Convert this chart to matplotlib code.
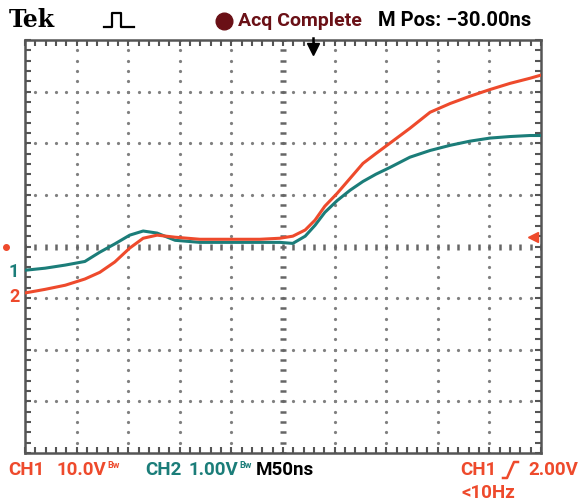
import matplotlib
matplotlib.use('Agg')
import matplotlib.pyplot as plt
from matplotlib.lines import Line2D
import numpy as np

# screen positions of the traces, in divisions (x: 0..10 left to right, y: -4..4)
x_div = [0.0, 0.39, 0.78, 1.16, 1.45, 1.74, 2.03, 2.29, 2.56, 2.91, 3.39, 3.97,
         4.55, 4.94, 5.19, 5.43, 5.62, 5.81, 6.05, 6.30, 6.55, 6.80, 7.07,
         7.46, 7.85, 8.24, 8.62, 9.01, 9.40, 9.79, 10.0]
ch_red = [-0.90, -0.83, -0.75, -0.63, -0.50, -0.30, -0.03, 0.16, 0.22, 0.18,
          0.14, 0.14, 0.14, 0.16, 0.20, 0.32, 0.51, 0.78, 1.03, 1.32, 1.61,
          1.80, 2.00, 2.29, 2.60, 2.77, 2.91, 3.04, 3.16, 3.26, 3.32]
ch_teal = [-0.46, -0.42, -0.36, -0.29, -0.11, 0.05, 0.22, 0.30, 0.26, 0.12,
           0.08, 0.08, 0.08, 0.08, 0.06, 0.20, 0.41, 0.66, 0.89, 1.09, 1.26,
           1.40, 1.53, 1.73, 1.86, 1.96, 2.04, 2.10, 2.13, 2.15, 2.15]

RED = '#ee4a2c'
TEAL = '#1b7d79'
DARKRED = '#6a1016'
GRID = '#808080'

W, H = 580, 504
fig = plt.figure(figsize=(W / 100, H / 100), dpi=100)
fig.patch.set_facecolor('white')

def fx(px):
    return px / W

def fy(py):
    return 1 - py / H

left, right, top, bottom = 25, 541, 40, 453
ax = fig.add_axes([fx(left), fy(bottom), fx(right) - fx(left), fy(top) - fy(bottom)])
ax.set_xlim(0, 10)
ax.set_ylim(-4, 4)

# graticule dots
minor_y = np.arange(-4, 4.01, 0.2)
minor_x = np.arange(0, 10.01, 0.2)
for gx in range(1, 10):
    if gx == 5:
        continue
    ax.plot([gx] * len(minor_y), minor_y, ls='none', marker='o', ms=2.3,
            mec='none', mfc=GRID, zorder=1)
for gy in range(-3, 4):
    if gy == 0:
        continue
    ax.plot(minor_x, [gy] * len(minor_x), ls='none', marker='o', ms=2.3,
            mec='none', mfc=GRID, zorder=1)
# centre lines with tick marks
ax.plot([5] * len(minor_y), minor_y, ls='none', marker='_', ms=5, mew=1.8,
        color='#666666', zorder=1)
ax.plot(minor_x, [0] * len(minor_x), ls='none', marker='|', ms=5, mew=1.8,
        color='#666666', zorder=1)

ax.set_xticks(minor_x)
ax.set_yticks(minor_y)
ax.tick_params(direction='in', length=4, width=1.5, color='#555555',
               top=True, right=True, labelbottom=False, labelleft=False)
for s in ax.spines.values():
    s.set_color('#555555')
    s.set_linewidth(1.8)

# traces
ax.plot(x_div, ch_teal, color=TEAL, lw=2.2, zorder=3, solid_joinstyle='round')
ax.plot(x_div, ch_red, color=RED, lw=2.2, zorder=4, solid_joinstyle='round')

# trigger level arrow and trigger position marker
ax.plot([9.85], [0.18], marker='<', ms=7, color=RED, clip_on=False, zorder=5)
fig.add_artist(Line2D([fx(313), fx(313)], [fy(38), fy(46)], color='black', lw=1.8))
fig.add_artist(Line2D([fx(313)], [fy(49)], marker='v', ms=9, color='black'))

# channel markers on the left
fig.text(fx(14), fy(272), '1', color=TEAL, family='Roboto', fontsize=13,
         fontweight='bold', ha='center', va='center')
fig.text(fx(14), fy(297), '2', color=RED, family='Roboto', fontsize=13,
         fontweight='bold', ha='center', va='center')
fig.add_artist(Line2D([fx(6)], [fy(247)], marker='o', ms=4, color=RED))

font = ['Roboto', 'DejaVu Sans']

# header
fig.text(fx(9), fy(20), 'Tek', family='DejaVu Serif', fontweight='bold',
         fontsize=17, va='center', ha='left')
fig.add_artist(Line2D([fx(104), fx(112), fx(112), fx(121), fx(121), fx(134)],
                      [fy(27), fy(27), fy(13), fy(13), fy(27), fy(27)],
                      color='black', lw=1.6))
fig.add_artist(Line2D([fx(224)], [fy(21)], marker='o', ms=12, color=DARKRED))
fig.text(fx(238), fy(21), 'Acq Complete', family=font, fontweight='bold',
         fontsize=14, color=DARKRED, va='center', ha='left')
fig.text(fx(378), fy(21), 'M Pos: \u221230.00ns', family=font, fontweight='bold',
         fontsize=14.5, color='black', va='center', ha='left')

# footer
renderer = fig.canvas.get_renderer()

def label(px, py, s, color, size=13.5, ha='left'):
    return fig.text(fx(px), fy(py), s, family=font, fontweight='bold',
                    fontsize=size, color=color, va='center', ha=ha)

def bw_after(t, color):
    bb = t.get_window_extent(renderer)
    fig.text((bb.x1 + 1) / W, fy(466), 'Bw', family=font, fontweight='bold',
             fontsize=6.5, color=color, va='center', ha='left')

label(8, 470, 'CH1', RED)
bw_after(label(57, 470, '10.0V', RED), RED)
label(145, 470, 'CH2', TEAL)
bw_after(label(189, 470, '1.00V', TEAL), TEAL)
label(256, 470, 'M50ns', 'black')
label(460, 470, 'CH1', RED)
fig.add_artist(Line2D([fx(503), fx(507), fx(514), fx(518)],
                      [fy(478), fy(478), fy(462), fy(462)], color=RED, lw=1.8))
label(578, 470, '2.00V', RED, ha='right')
label(461, 493, '<10Hz', RED)

fig.savefig('out.png', dpi=100, facecolor='white')
